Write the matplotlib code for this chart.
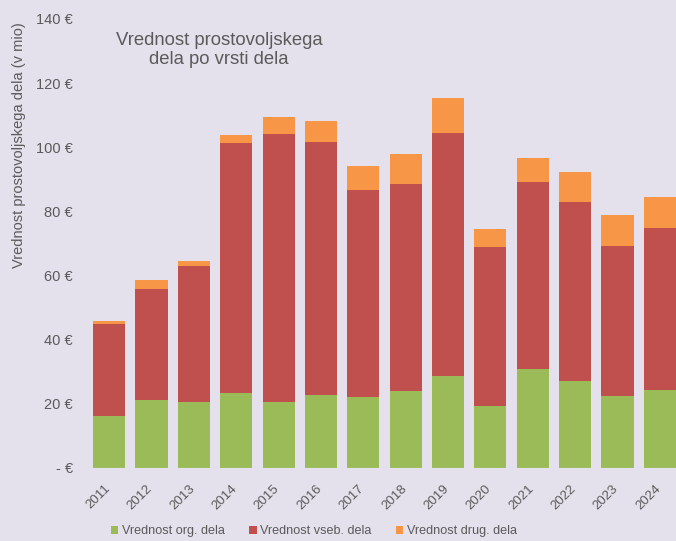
import matplotlib
matplotlib.use("Agg")
import matplotlib.pyplot as plt
import matplotlib.transforms as mtransforms
import numpy as np

plt.rcParams['font.family'] = ['Liberation Sans', 'DejaVu Sans']

# values in mio EUR
years = ['2011', '2012', '2013', '2014', '2015', '2016', '2017',
         '2018', '2019', '2020', '2021', '2022', '2023', '2024']
org = [16.2, 21.2, 20.3, 23.1, 20.6, 22.5, 21.9, 23.8, 28.5, 19.3, 30.7, 27.1, 22.4, 24.3]
vseb = [28.5, 34.4, 42.5, 78.2, 83.4, 79.1, 64.7, 64.6, 75.9, 49.5, 58.5, 55.7, 46.8, 50.6]
drug = [0.9, 2.8, 1.6, 2.5, 5.4, 6.5, 7.6, 9.4, 10.9, 5.6, 7.5, 9.3, 9.7, 9.4]
labels = ['Vrednost org. dela', 'Vrednost vseb. dela', 'Vrednost drug. dela']
colors = ['#9bbb59', '#c0504d', '#f79646']

bg = '#e5e1ec'
txt = '#5a5a5a'

fig = plt.figure(figsize=(6.76, 5.41), dpi=100, facecolor=bg)
ax = fig.add_axes([88 / 676, 1 - 467.5 / 541, 593 / 676, 448.5 / 541])
ax.set_facecolor(bg)

x = np.arange(len(years))
w = 0.76
bottom = np.zeros(len(years))
for vals, lab, col in zip([org, vseb, drug], labels, colors):
    ax.bar(x, vals, w, bottom=bottom, color=col, label=lab)
    bottom += np.array(vals)

ax.set_xlim(-0.5, len(years) - 0.5)
ax.set_ylim(0, 140)
ax.set_yticks(range(0, 141, 20))
ax.set_yticklabels(['- €'] + [f'{v} €' for v in range(20, 141, 20)])
ax.set_xticks(x)
ax.set_xticklabels(years, rotation=45, ha='right', va='center', rotation_mode='anchor')
ax.tick_params(length=0, colors=txt)
ax.tick_params(axis='y', labelsize=10.5, pad=11)
ax.tick_params(axis='x', labelsize=9.5, pad=14)
shift = mtransforms.ScaledTranslation(-1 / 100, 0, fig.dpi_scale_trans)
for lbl in ax.get_xticklabels():
    lbl.set_transform(lbl.get_transform() + shift)
for s in ax.spines.values():
    s.set_visible(False)
ax.axhline(0, color='#d8d4e0', lw=0.8)

fig.text(19 / 676, 1 - 145 / 541, 'Vrednost prostovoljskega dela (v mio)',
         rotation=90, ha='center', va='center', fontsize=10.5, color=txt)

fig.text(219 / 676, 1 - 50 / 541, 'Vrednost prostovoljskega\ndela po vrsti dela',
         ha='center', va='center', fontsize=13.3, color=txt, linespacing=1.1)

fig.legend(loc='center', bbox_to_anchor=(314 / 676, 1 - 531 / 541), ncol=3,
           frameon=False, fontsize=9.1, labelcolor=txt, handlelength=0.6,
           handleheight=0.6, handletextpad=0.3, columnspacing=1.9)

fig.savefig('out.png', dpi=100, facecolor=bg)
